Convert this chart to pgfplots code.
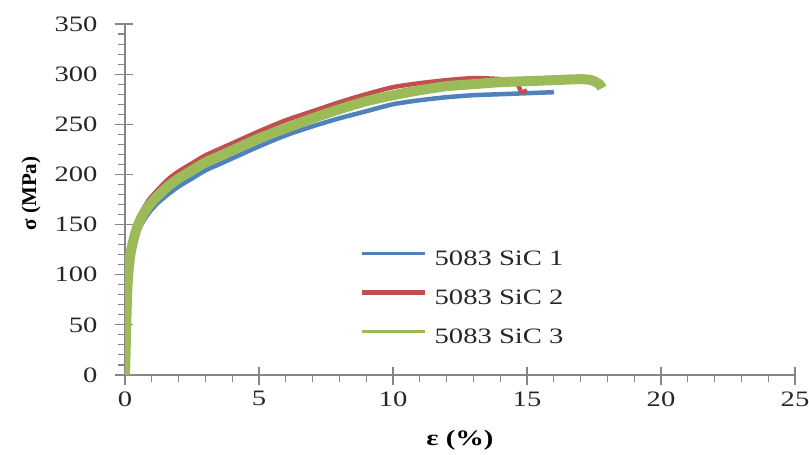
\documentclass[border=0pt]{standalone}
\usepackage{fontspec}
\setmainfont{Liberation Serif}[FakeStretch=1.3]
\newfontfamily\ylabfont{Liberation Serif}
\usepackage{pgfplots}
\pgfplotsset{compat=1.18}

\definecolor{sic1}{HTML}{4F81BD}
\definecolor{sic2}{HTML}{C0504D}
\definecolor{sic3}{HTML}{9BBB59}
\definecolor{axisgray}{HTML}{868686}
\definecolor{txtgray}{HTML}{262626}

\newcommand{\chartfont}{\fontsize{22bp}{26bp}\selectfont}

\begin{document}
\begin{tikzpicture}
\begin{axis}[
    scale only axis,
    width=670bp, height=351bp,
    xmin=0, xmax=25, ymin=0, ymax=350,
    axis lines=left,
    axis line style={draw=axisgray, line width=1.3bp, -},
    xtick={0,5,...,25}, ytick={0,50,...,350},
    minor x tick num=4, minor y tick num=4,
    tick align=outside,
    major tick length=18bp, minor tick length=7bp,
    tick style={draw=axisgray, line width=1.1bp},
    major x tick style={yshift=8bp},
    major y tick style={xshift=8bp},
    /pgf/number format/assume math mode=true,
    tick label style={font=\chartfont, text=txtgray},
    xticklabel style={yshift=5bp},
    yticklabel style={xshift=-6bp},
    xlabel={\textbf{ε (\%)}},
    ylabel={\ylabfont\fontsize{21bp}{25bp}\selectfont\bfseries σ (MPa)},
    xlabel style={font=\chartfont, at={(axis description cs:0.5,-0.185)}, anchor=center},
    ylabel style={at={(axis description cs:-0.1403,0.517)}, anchor=center},
    legend style={draw=none, fill=none, inner sep=0pt,
        at={(axis cs:8.77,125)}, anchor=north west,
        font=\chartfont, text=txtgray,
        nodes={inner sep=0pt, text height=16bp, text depth=5bp},
        row sep=18bp, column sep=0pt},
    legend cell align=left,
]
\addlegendimage{legend image code/.code={\draw[sic1, line width=2.5bp] (0bp,7bp) -- (63bp,7bp); \path (72bp,0bp);}}
\addlegendentry{5083 SiC 1}
\addlegendimage{legend image code/.code={\draw[sic2, line width=4.5bp] (0bp,7bp) -- (63bp,7bp); \path (72bp,0bp);}}
\addlegendentry{5083 SiC 2}
\addlegendimage{legend image code/.code={\draw[sic3, line width=2.5bp] (0bp,7bp) -- (63bp,7bp); \path (72bp,0bp);}}
\addlegendentry{5083 SiC 3}

% 5083 SiC 1
\addplot[sic1, line width=4.5bp, smooth, tension=0.4, forget plot] coordinates {
    (0,0) (0.03,30) (0.05,52) (0.07,72) (0.1,90) (0.14,104) (0.2,116)
    (0.3,128) (0.45,141) (0.65,152) (0.9,162) (1.2,171) (1.6,180)
    (2.0,188) (2.5,196) (3.0,204) (3.5,210) (4.0,216) (5.0,228)
    (6.0,239) (7.0,248) (8.0,256) (9.0,263) (10.0,270) (11.0,274)
    (12.0,277) (13.0,279) (14.0,280) (15.0,281) (16.0,282)
};
% 5083 SiC 2
\addplot[sic2, line width=4.5bp, smooth, tension=0.4, forget plot] coordinates {
    (0,0) (0.03,31) (0.05,53) (0.07,74) (0.1,94) (0.14,108) (0.2,123)
    (0.3,137) (0.45,151) (0.65,164) (0.9,175) (1.2,184) (1.6,195)
    (2.0,203) (2.5,211) (3.0,219) (3.5,225) (4.0,231) (5.0,243)
    (6.0,254) (7.0,263) (8.0,272) (9.0,280) (10.0,287) (11.0,291)
    (12.0,294) (13.0,296) (14.0,295) (14.6,291) (14.8,282) (15.0,284)
};
% 5083 SiC 3
\addplot[sic3, line width=10bp, smooth, tension=0.4, forget plot] coordinates {
    (0,0) (0.03,30) (0.05,52) (0.07,73) (0.1,92) (0.14,106) (0.2,120)
    (0.3,133) (0.45,147) (0.65,159) (0.9,169) (1.2,178) (1.6,188)
    (2.0,196) (2.5,204) (3.0,212) (3.5,218) (4.0,224) (5.0,236)
    (6.0,246) (7.0,256) (8.0,265) (9.0,273) (10.0,279) (11.0,284)
    (12.0,288) (13.0,290) (14.0,292) (15.0,293) (16.0,294) (17.0,295)
    (17.4,294) (17.7,290) (17.8,286)
};
\end{axis}
\pgfresetboundingbox
\path ([xshift=-125bp,yshift=-80bp]current axis.south west)
    rectangle ([xshift=14bp,yshift=24bp]current axis.north east);
\end{tikzpicture}
\end{document}
